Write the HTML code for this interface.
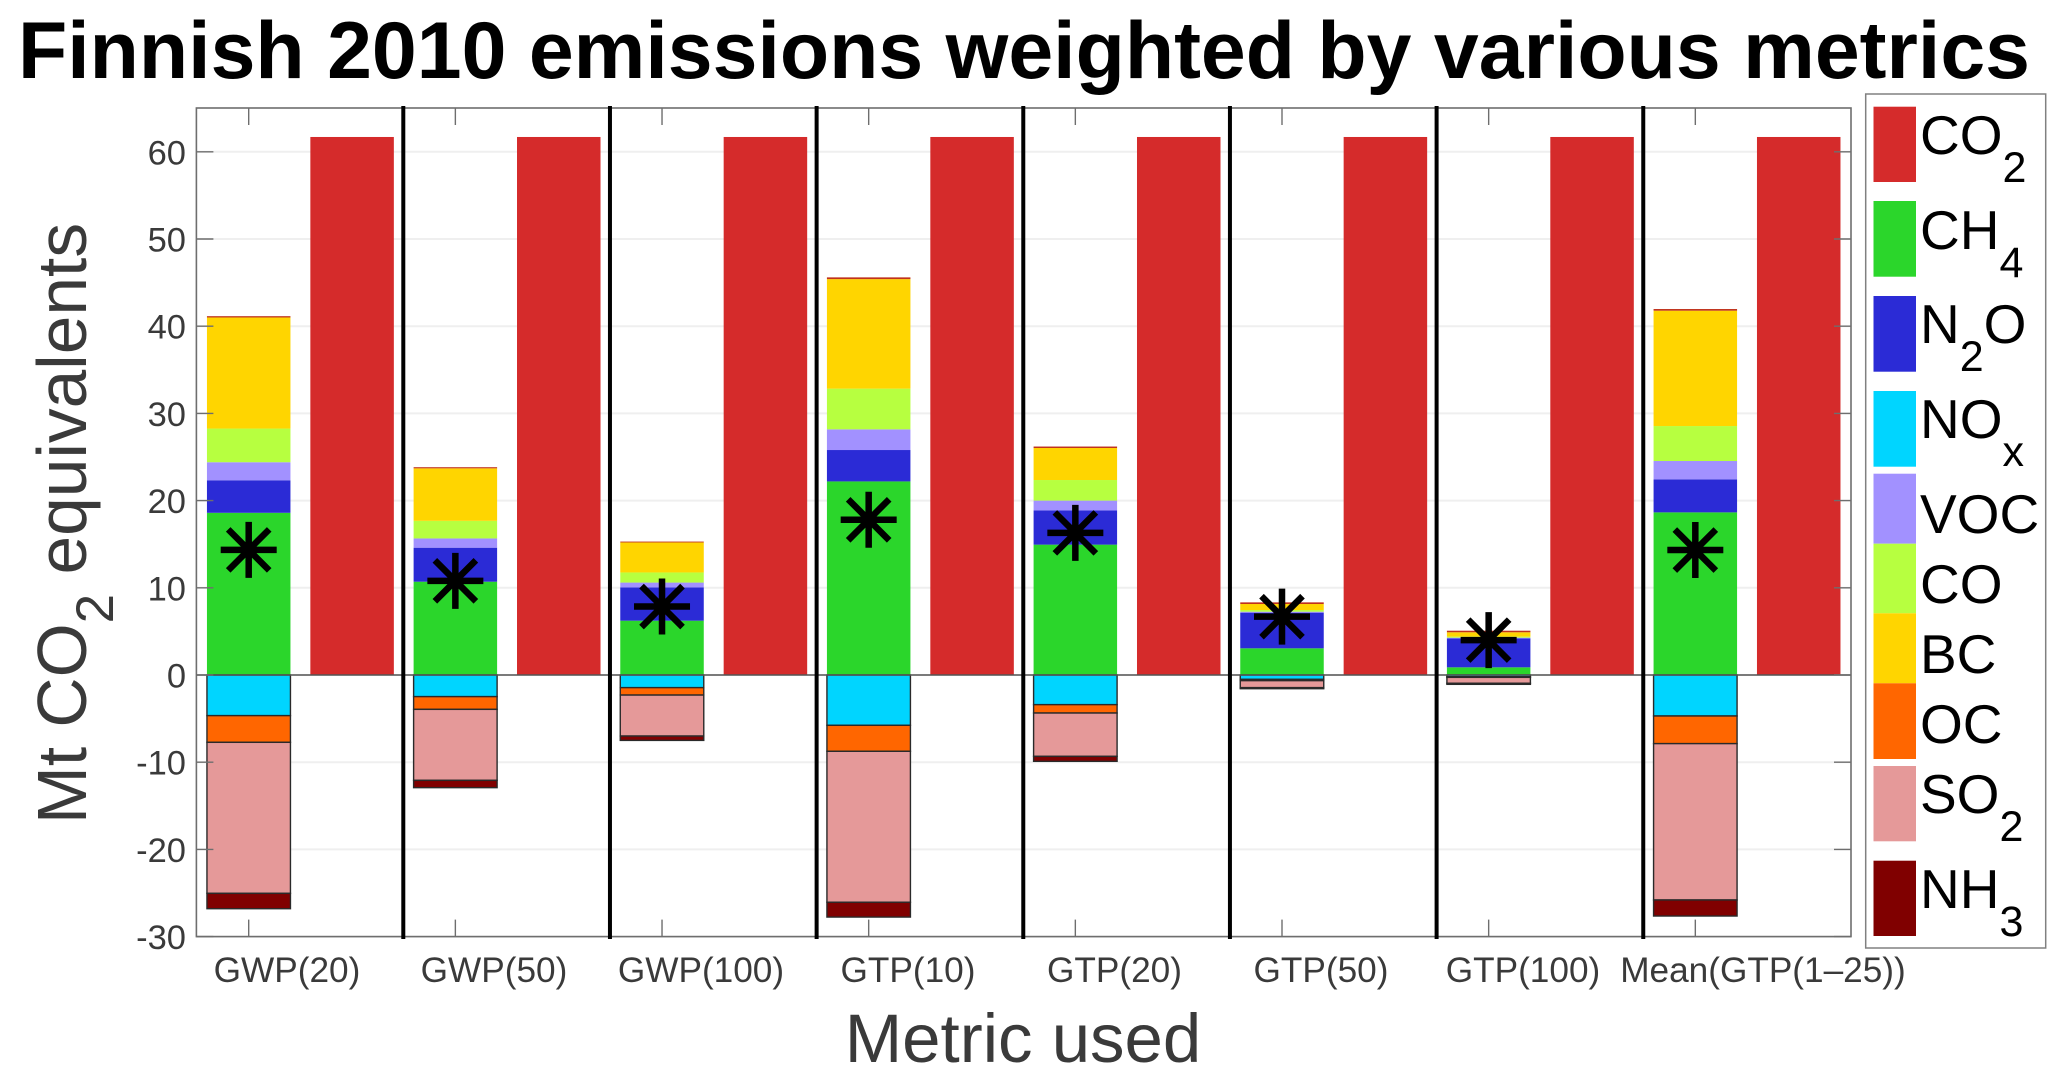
<!DOCTYPE html>
<html lang="en">
<head>
<meta charset="utf-8">
<title>Finnish 2010 emissions weighted by various metrics</title>
<style>
html,body{margin:0;padding:0;background:#fff;}
svg{display:block;font-family:"Liberation Sans",Arial,sans-serif;}
</style>
</head>
<body>
<svg id="chart" xmlns="http://www.w3.org/2000/svg" width="2067" height="1083" viewBox="0 0 2067 1083">
  <rect x="0" y="0" width="2067" height="1083" fill="#ffffff"/>
  <text x="18" y="78" font-size="80.6" font-weight="700" fill="#000000" textLength="2012" lengthAdjust="spacing">Finnish 2010 emissions weighted by various metrics</text>
  <g id="plot"></g>
  <text transform="translate(86,523.5) rotate(-90)" text-anchor="middle" font-size="69.5" fill="#3a3a3a">Mt CO<tspan dy="27" font-size="53">2</tspan><tspan dy="-27"> equivalents</tspan></text>
  <text x="1023" y="1062" text-anchor="middle" font-size="69" fill="#3a3a3a">Metric used</text>
  <g>
    <rect x="1865.7" y="94" width="180" height="854" fill="#ffffff" stroke="#808080" stroke-width="1.5"/>
    <rect x="1873.5" y="106.7" width="42.5" height="75.3" fill="#d52b2b"/>
    <rect x="1873.5" y="201" width="42.5" height="75.7" fill="#2bd62b"/>
    <rect x="1873.5" y="296" width="42.5" height="75.7" fill="#2b2bd6"/>
    <rect x="1873.5" y="391" width="42.5" height="75.7" fill="#00d5ff"/>
    <rect x="1873.5" y="473.7" width="42.5" height="70" fill="#a291ff"/>
    <rect x="1873.5" y="543.7" width="42.5" height="69.6" fill="#b7ff40"/>
    <rect x="1873.5" y="613.3" width="42.5" height="70" fill="#ffd500"/>
    <rect x="1873.5" y="683.3" width="42.5" height="75.7" fill="#ff6600"/>
    <rect x="1873.5" y="766" width="42.5" height="75.3" fill="#e59999"/>
    <rect x="1873.5" y="860.7" width="42.5" height="75.3" fill="#800000"/>
    <g font-size="55" fill="#000000">
      <text x="1920" y="154">CO<tspan dy="28" font-size="43">2</tspan></text>
      <text x="1920" y="249">CH<tspan dy="28" font-size="43">4</tspan></text>
      <text x="1920" y="343">N<tspan dy="28" font-size="43">2</tspan><tspan dy="-28">O</tspan></text>
      <text x="1920" y="438">NO<tspan dy="28" font-size="43">x</tspan></text>
      <text x="1920" y="533">VOC</text>
      <text x="1920" y="603">CO</text>
      <text x="1920" y="673">BC</text>
      <text x="1920" y="743">OC</text>
      <text x="1920" y="813">SO<tspan dy="28" font-size="43">2</tspan></text>
      <text x="1920" y="908">NH<tspan dy="28" font-size="43">3</tspan></text>
    </g>
  </g>
</svg>
<script>
var categories = ["GWP(20)","GWP(50)","GWP(100)","GTP(10)","GTP(20)","GTP(50)","GTP(100)","Mean(GTP(1\u201325))"];
var ch4 = [18.6,10.7,6.23,22.2,14.95,3.06,0.88,18.65];
var n2o = [3.73,3.9,3.82,3.6,3.93,4.09,3.32,3.79];
var voc = [2.07,1.06,0.55,2.37,1.12,0.11,0.08,2.1];
var co = [3.86,2.02,1.16,4.67,2.36,0.19,0.12,4.01];
var bc = [12.74,6.02,3.44,12.56,3.67,0.69,0.5,13.23];
var co2Sliver = [0.15,0.13,0.1,0.2,0.17,0.19,0.18,0.19];
var nox = [-4.66,-2.48,-1.45,-5.77,-3.4,-0.5,-0.2,-4.7];
var oc = [-3.06,-1.46,-0.85,-2.98,-0.96,-0.15,-0.07,-3.17];
var so2 = [-17.32,-8.14,-4.7,-17.31,-4.97,-0.8,-0.68,-17.93];
var nh3 = [-1.76,-0.84,-0.5,-1.7,-0.57,-0.12,-0.12,-1.84];
var co2 = [61.7,61.7,61.7,61.7,61.7,61.7,61.7,61.7];
var netTotal = [14.35,10.8,7.85,17.8,16.3,6.69,4.0,14.33];
var yTicks = [-30,-20,-10,0,10,20,30,40,50,60];

var NS = "http://www.w3.org/2000/svg";
var plot = document.getElementById("plot");
var left = 196.4, right = 1851, top_ = 108, bottom = 936.6;
function yPos(v){ return 675 - v * 8.72; }
function xPos(i){ return 248.7 + i * 206.66; }
var barW = 83.5;
function mk(tag, attrs, parent){
  var el = document.createElementNS(NS, tag);
  for (var k in attrs) el.setAttribute(k, attrs[k]);
  (parent || plot).appendChild(el);
  return el;
}

yTicks.forEach(function(t){
  var g = mk("line",{x1:left,x2:right,y1:yPos(t),y2:yPos(t),stroke:"#efefef","stroke-width":2});
  
  
});

function stackSeg(i, x, base, val, color, name, edge){
  var y1 = yPos(base), y2 = yPos(base + val);
  var r = mk("rect",{x:x,y:Math.min(y1,y2),width:barW,height:Math.abs(y2-y1),fill:color});
  if (edge) { r.setAttribute("stroke","#2a2a2a"); r.setAttribute("stroke-width","1.4"); }
  
  
}

categories.forEach(function(c,i){
  var cx = xPos(i), x1 = cx - barW/2, x2 = cx + 103.4 - barW/2;
  var base = 0;
  stackSeg(i,x1,base,ch4[i],"#2bd62b","bar-ch4"); base += ch4[i];
  stackSeg(i,x1,base,n2o[i],"#2b2bd6","bar-n2o"); base += n2o[i];
  stackSeg(i,x1,base,voc[i],"#a291ff","bar-voc"); base += voc[i];
  stackSeg(i,x1,base,co[i],"#b7ff40","bar-co"); base += co[i];
  stackSeg(i,x1,base,bc[i],"#ffd500","bar-bc"); base += bc[i];
  stackSeg(i,x1,base,co2Sliver[i],"#c0321c","bar-co2-sliver");
  base = 0;
  stackSeg(i,x1,base,nox[i],"#00d5ff","bar-nox",true); base += nox[i];
  stackSeg(i,x1,base,oc[i],"#ff6600","bar-oc",true); base += oc[i];
  stackSeg(i,x1,base,so2[i],"#e59999","bar-so2",true); base += so2[i];
  stackSeg(i,x1,base,nh3[i],"#800000","bar-nh3",true);
  stackSeg(i,x2,0,co2[i],"#d52b2b","bar-co2");
});

var frame = mk("rect",{x:left,y:top_,width:right-left,height:bottom-top_,fill:"none",stroke:"#6e6e6e","stroke-width":1.6});


var zero = mk("line",{x1:left,x2:right,y1:yPos(0),y2:yPos(0),stroke:"#555555","stroke-width":1.5});



yTicks.forEach(function(t){
  var y = yPos(t);
  var a = mk("line",{x1:left,x2:left+17,y1:y,y2:y,stroke:"#6e6e6e","stroke-width":1.4});
  
  
  var b = mk("line",{x1:right-17,x2:right,y1:y,y2:y,stroke:"#6e6e6e","stroke-width":1.4});
  
  
  var l = mk("text",{x:186,y:y+12.5,"text-anchor":"end","font-size":34.5,fill:"#3a3a3a"});
  l.textContent = String(t);
  
  
});

var labelCenters = [287,494,701,908,1114.5,1321,1523,1763];
categories.forEach(function(c,i){
  var x = xPos(i);
  var a = mk("line",{x1:x,x2:x,y1:top_,y2:top_+17,stroke:"#6e6e6e","stroke-width":1.4});
  
  
  var b = mk("line",{x1:x,x2:x,y1:bottom-17,y2:bottom,stroke:"#6e6e6e","stroke-width":1.4});
  
  
  var l = mk("text",{x:labelCenters[i],y:982,"text-anchor":"middle","font-size":35.2,fill:"#3a3a3a"});
  l.textContent = c;
  
  
  if (i < categories.length - 1) {
    var d = mk("line",{x1:x+154.6,x2:x+154.6,y1:106,y2:939,stroke:"#000000","stroke-width":4});
    
    
  }
});

netTotal.forEach(function(v,i){
  var cx = xPos(i), cy = yPos(v), r = 28, q = 20.5;
  var s = mk("path",{d:"M"+(cx-r)+" "+cy+"H"+(cx+r)+"M"+cx+" "+(cy-r)+"V"+(cy+r)+
    "M"+(cx-q)+" "+(cy-q)+"L"+(cx+q)+" "+(cy+q)+"M"+(cx-q)+" "+(cy+q)+"L"+(cx+q)+" "+(cy-q),
    fill:"none",stroke:"#000000","stroke-width":6.5});
  
  
});
</script>
</body>
</html>
